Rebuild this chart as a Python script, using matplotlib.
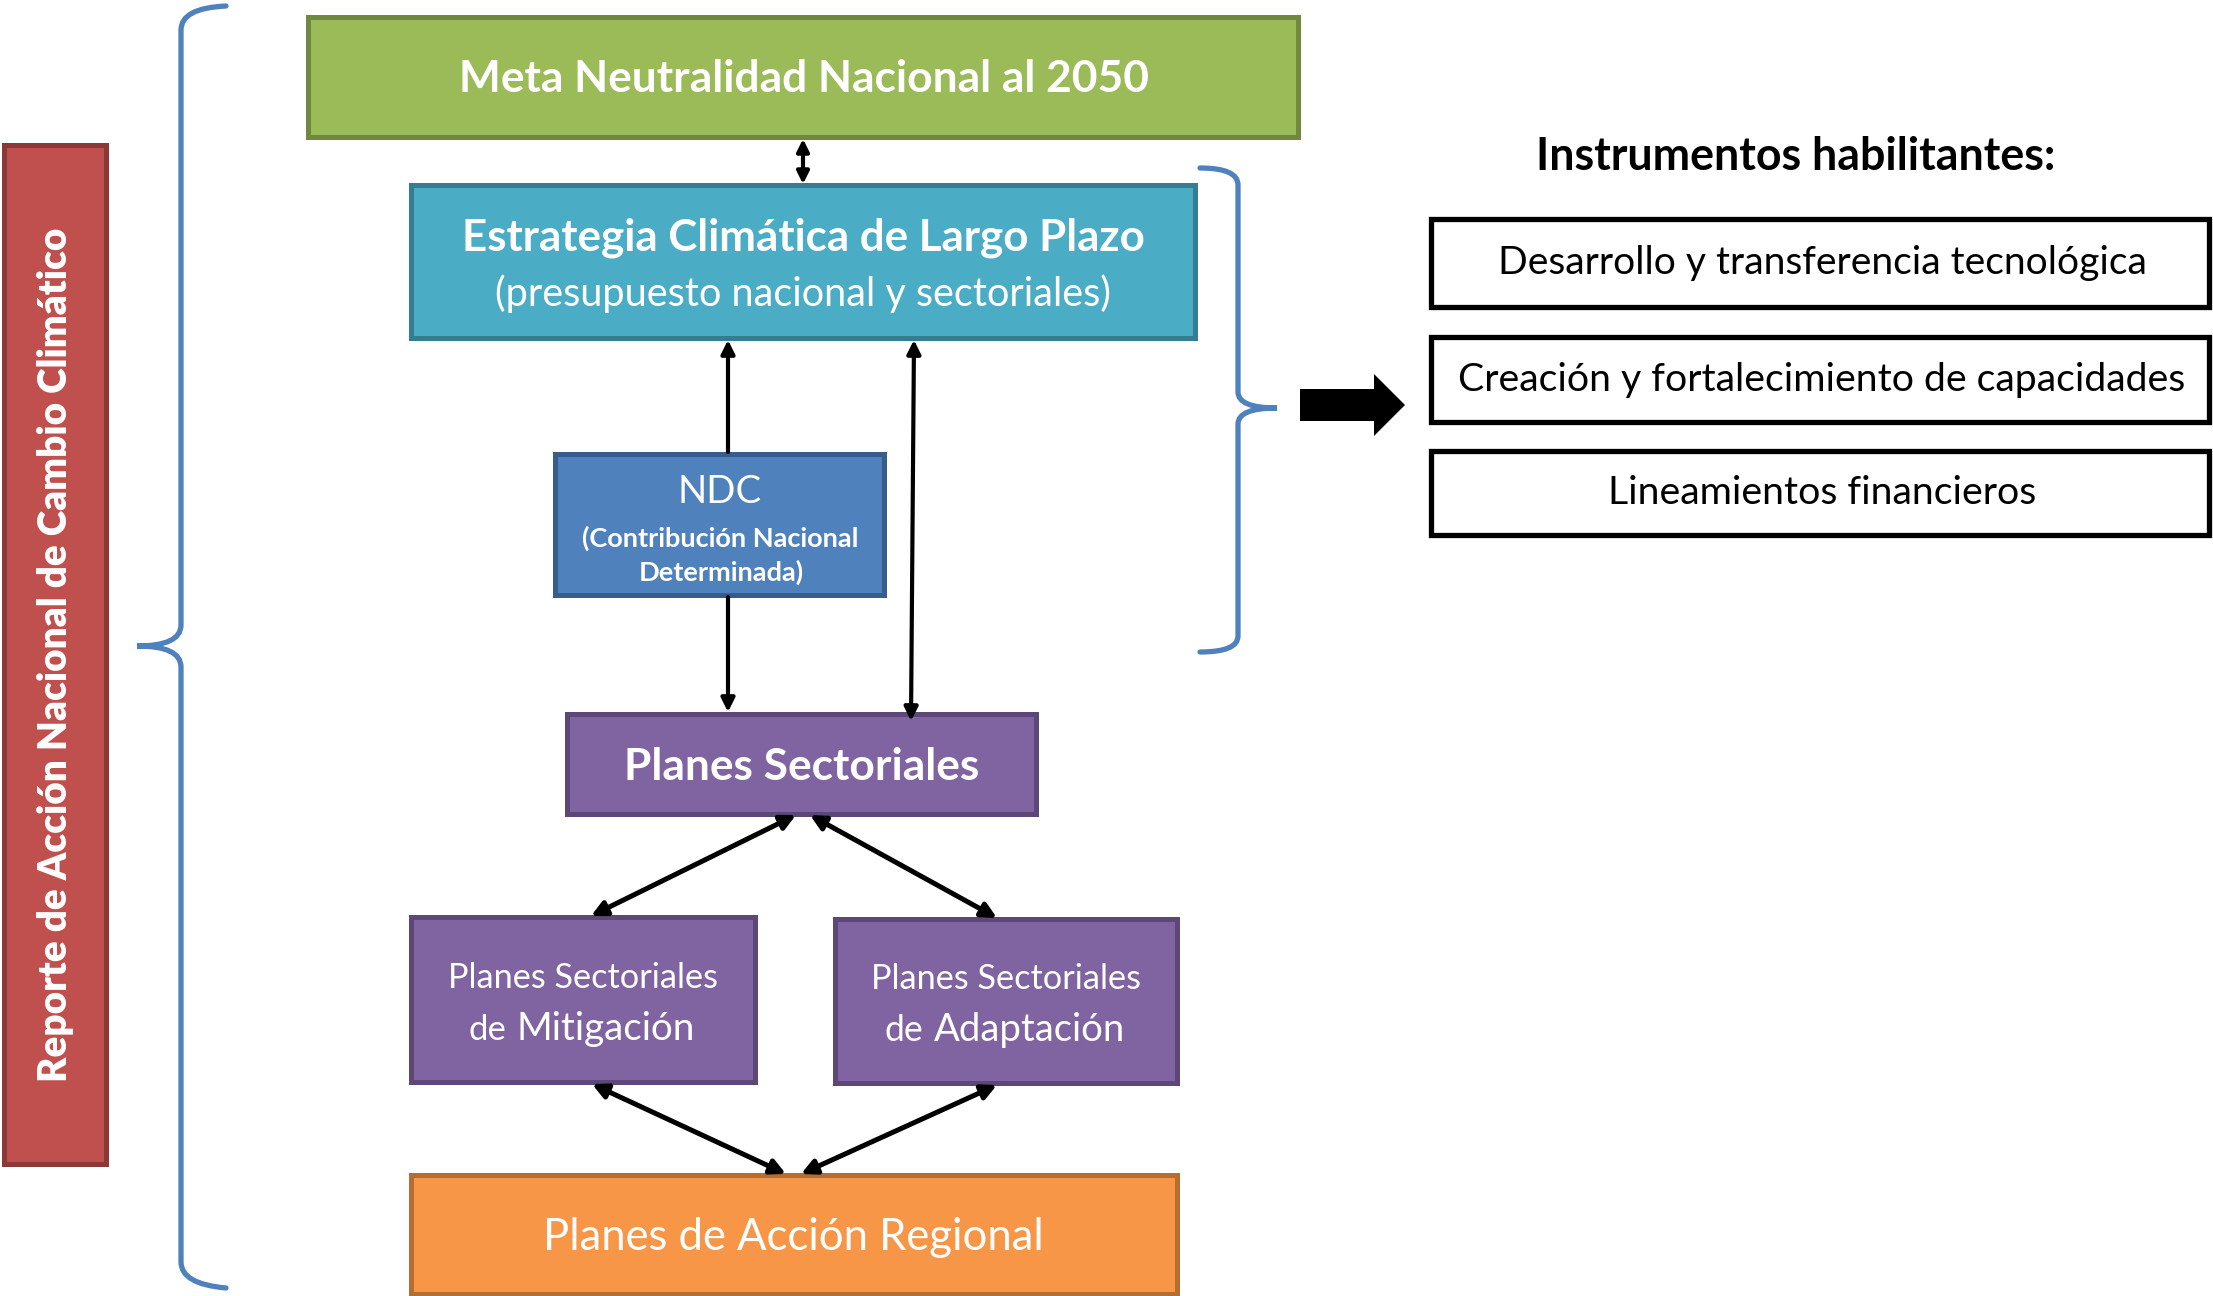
import numpy as np
import matplotlib
matplotlib.use('Agg')
from matplotlib import pyplot as plt
from matplotlib.patches import Rectangle, Polygon, FancyArrowPatch, PathPatch
from matplotlib.path import Path

plt.rcParams['font.family'] = ['Lato', 'DejaVu Sans']

# --- labels (the diagram's content) ---
side_label = 'Reporte de Acción Nacional de Cambio Climático'
goal_label = 'Meta Neutralidad Nacional al 2050'
ecl_title = 'Estrategia Climática de Largo Plazo'
ecl_sub = '(presupuesto nacional y sectoriales)'
ndc_lines = ['NDC', '(Contribución Nacional', 'Determinada)']
sector_label = 'Planes Sectoriales'
mitig_lines = ['Planes Sectoriales', 'de', 'Mitigación']
adapt_lines = ['Planes Sectoriales', 'de', 'Adaptación']
regional_label = 'Planes de Acción Regional'
instr_title = 'Instrumentos habilitantes:'
instruments = ['Desarrollo y transferencia tecnológica',
               'Creación y fortalecimiento de capacidades',
               'Lineamientos financieros']

# colours (fill, edge)
red = ('#C0504D', '#8C3836')
green = ('#9BBB59', '#71893F')
teal = ('#4BACC6', '#357D91')
blue = ('#4F81BD', '#385D8A')
purple = ('#8064A2', '#5C4776')
orange = ('#F79646', '#B66D31')
brace_col = '#4F81BD'

W, H = 2213, 1296
fig = plt.figure(figsize=(W / 100, H / 100), dpi=100)
ax = fig.add_axes([0, 0, 1, 1])
ax.set_xlim(0, W)
ax.set_ylim(H, 0)
ax.axis('off')
renderer = fig.canvas.get_renderer()


def box(x0, y0, x1, y1, cols, lw=3.6):
    ax.add_patch(Rectangle((x0, y0), x1 - x0, y1 - y0, facecolor=cols[0],
                           edgecolor=cols[1], lw=lw, zorder=2))


def fit_text(x, y, s, width, rot=0, **kw):
    # scale the font so the rendered string spans `width` pixels
    t = ax.text(x, y, s, fontsize=20, rotation=rot, zorder=5, **kw)
    ext = t.get_window_extent(renderer)
    cur = ext.height if rot else ext.width
    t.set_fontsize(20 * width / cur)
    return t


def runs_text(xc, y, parts, gap, **kw):
    # several pieces of text with their own size on one baseline
    ts = []
    for s, w in parts:
        t = fit_text(0, y, s, w, ha='left', va='baseline', **kw)
        ts.append((t, w))
    total = sum(w for _, w in ts) + gap * (len(ts) - 1)
    x = xc - total / 2
    for t, w in ts:
        t.set_x(x)
        x += w + gap


def arrow(p0, p1, lw=3.0, ms=20, style='<|-|>'):
    ax.add_patch(FancyArrowPatch(p0, p1, arrowstyle=style, mutation_scale=ms,
                                 color='black', lw=lw, shrinkA=0, shrinkB=0,
                                 zorder=3))


def brace(pts, lw=3.8):
    codes = [Path.MOVETO, Path.CURVE3, Path.CURVE3, Path.LINETO,
             Path.CURVE3, Path.CURVE3, Path.CURVE3, Path.CURVE3,
             Path.LINETO, Path.CURVE3, Path.CURVE3]
    ax.add_patch(PathPatch(Path(pts, codes), facecolor='none',
                           edgecolor=brace_col, lw=lw, capstyle='round',
                           zorder=2))


# red side bar
box(4, 145, 106, 1164, red)
fit_text(56, 655, side_label, 856, rot=90, ha='center', va='center',
         color='white', fontweight='heavy')

# big left brace
brace([(226, 6), (181, 8), (181, 30), (181, 625),
       (181, 646), (137, 646), (181, 646), (181, 667),
       (181, 1262), (181, 1284), (226, 1288)])

# main column
box(308, 17, 1298, 137, green)
fit_text(804, 79, goal_label, 690, ha='center', va='center',
         color='white', fontweight='bold')

box(411, 185, 1195, 338, teal)
fit_text(803, 238, ecl_title, 683, ha='center', va='center',
         color='white', fontweight='bold')
fit_text(803, 294, ecl_sub, 618, ha='center', va='center', color='white')

box(555, 454, 884, 595, blue)
fit_text(720, 492, ndc_lines[0], 84, ha='center', va='center', color='white')
fit_text(720, 538, ndc_lines[1], 277, ha='center', va='center',
         color='white', fontweight='bold')
fit_text(721, 572, ndc_lines[2], 166, ha='center', va='center',
         color='white', fontweight='bold')

box(567, 714, 1036, 814, purple)
fit_text(802, 767, sector_label, 355, ha='center', va='center',
         color='white', fontweight='bold')

box(411, 917, 755, 1082, purple)
fit_text(583, 978, mitig_lines[0], 270, ha='center', va='center', color='white')
runs_text(582, 1040, [(mitig_lines[1], 38), (mitig_lines[2], 179)], 10,
          color='white')

box(835, 919, 1177, 1083, purple)
fit_text(1006, 979, adapt_lines[0], 270, ha='center', va='center', color='white')
runs_text(1005, 1041, [(adapt_lines[1], 39), (adapt_lines[2], 191)], 10,
          color='white')

box(411, 1175, 1177, 1294, orange)
fit_text(793, 1238, regional_label, 502, ha='center', va='center',
         color='white')

# connectors
arrow((803, 139), (803, 184), ms=18)
arrow((728, 452), (728, 340), style='-|>')
arrow((728, 597), (728, 712), style='-|>')
arrow((914, 340), (911, 721))
arrow((796, 815), (591, 916), lw=3.6, ms=22)
arrow((810, 815), (997, 918), lw=3.6, ms=22)
arrow((592, 1084), (786, 1174), lw=3.6, ms=22)
arrow((997, 1085), (801, 1174), lw=3.6, ms=22)

# right brace and block arrow
brace([(1200, 168), (1238, 168), (1238, 185), (1238, 392),
       (1238, 408), (1277, 408), (1238, 408), (1238, 424),
       (1238, 636), (1238, 652), (1200, 652)])
ax.add_patch(Polygon([(1300, 389), (1374, 389), (1374, 374), (1405, 405),
                      (1374, 436), (1374, 421), (1300, 421)],
                     closed=True, facecolor='black', edgecolor='none',
                     zorder=3))

# enabling instruments
fit_text(1796, 157, instr_title, 520, ha='center', va='center',
         color='black', fontweight='bold')
rows = [(219, 307), (337, 422), (451, 535)]
widths = [649, 729, 429]
for (y0, y1), lab, w in zip(rows, instruments, widths):
    box(1431, y0, 2209, y1, ('white', 'black'), lw=3.8)
    fit_text(1822, (y0 + y1) / 2, lab, w, ha='center', va='center',
             color='black')

fig.savefig('out.png', dpi=100)
